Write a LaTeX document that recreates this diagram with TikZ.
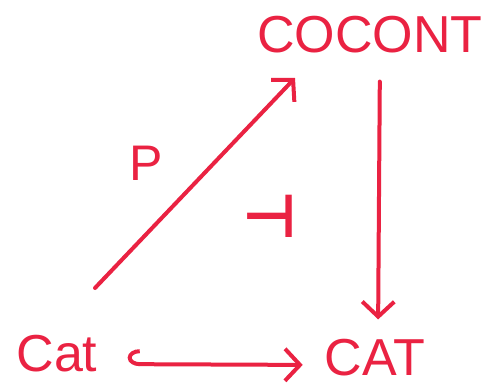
\documentclass[tikz,border=0pt]{standalone}
\usepackage{fontspec}
\setmainfont{Liberation Sans}
\newfontfamily\symfont{DejaVu Sans}
\usetikzlibrary{arrows.meta}
\definecolor{ink}{RGB}{234,34,66}
\tikzset{
  obj/.style={inner sep=0pt, text=ink, font=\fontsize{52}{52}\selectfont},
  barbtip/.tip={Straight Barb[length=15pt, width=32pt, line width=4pt]},
  arr/.style={draw=ink, line width=4pt, line cap=round, -{barbtip}},
  incl/.style={draw=ink, line width=4pt, line cap=round,
    {Hooks[right, length=12pt, width=30pt, line width=4pt]}-{barbtip}},
}
\begin{document}
\begin{tikzpicture}[x=1pt, y=-1pt]
  \fill[white] (0,0) rectangle (483,388);
  \useasboundingbox (0,0) rectangle (483,388);

  % objects
  \node[obj] (cat)  at (57,354)  {Cat};
  \node[obj] (CAT)  at (375,358) {CAT};
  \node[obj] (coc)  at (370,35)  {COCONT};

  % inclusion Cat -> CAT
  \draw[incl, shorten <=30pt, shorten >=22pt] ([yshift=-10pt]cat.east) -- ([yshift=-7pt]CAT.west);

  % forgetful COCONT -> CAT
  \draw[arr, shorten <=28pt, shorten >=20pt] ([xshift=10pt]coc.south) -- ([xshift=3pt]CAT.north);

  % free cocompletion P
  \draw[arr] ([shift={(38,-66)}]cat.center) -- ([shift={(-75,43)}]coc.center);

  % labels
  \node[obj, font=\fontsize{50}{50}\selectfont] (plab) at (146,163) {P};
  \node[obj, font=\fontsize{60}{60}\selectfont\symfont\bfseries] (adj) at (270,216) {⊣};
\end{tikzpicture}
\end{document}
